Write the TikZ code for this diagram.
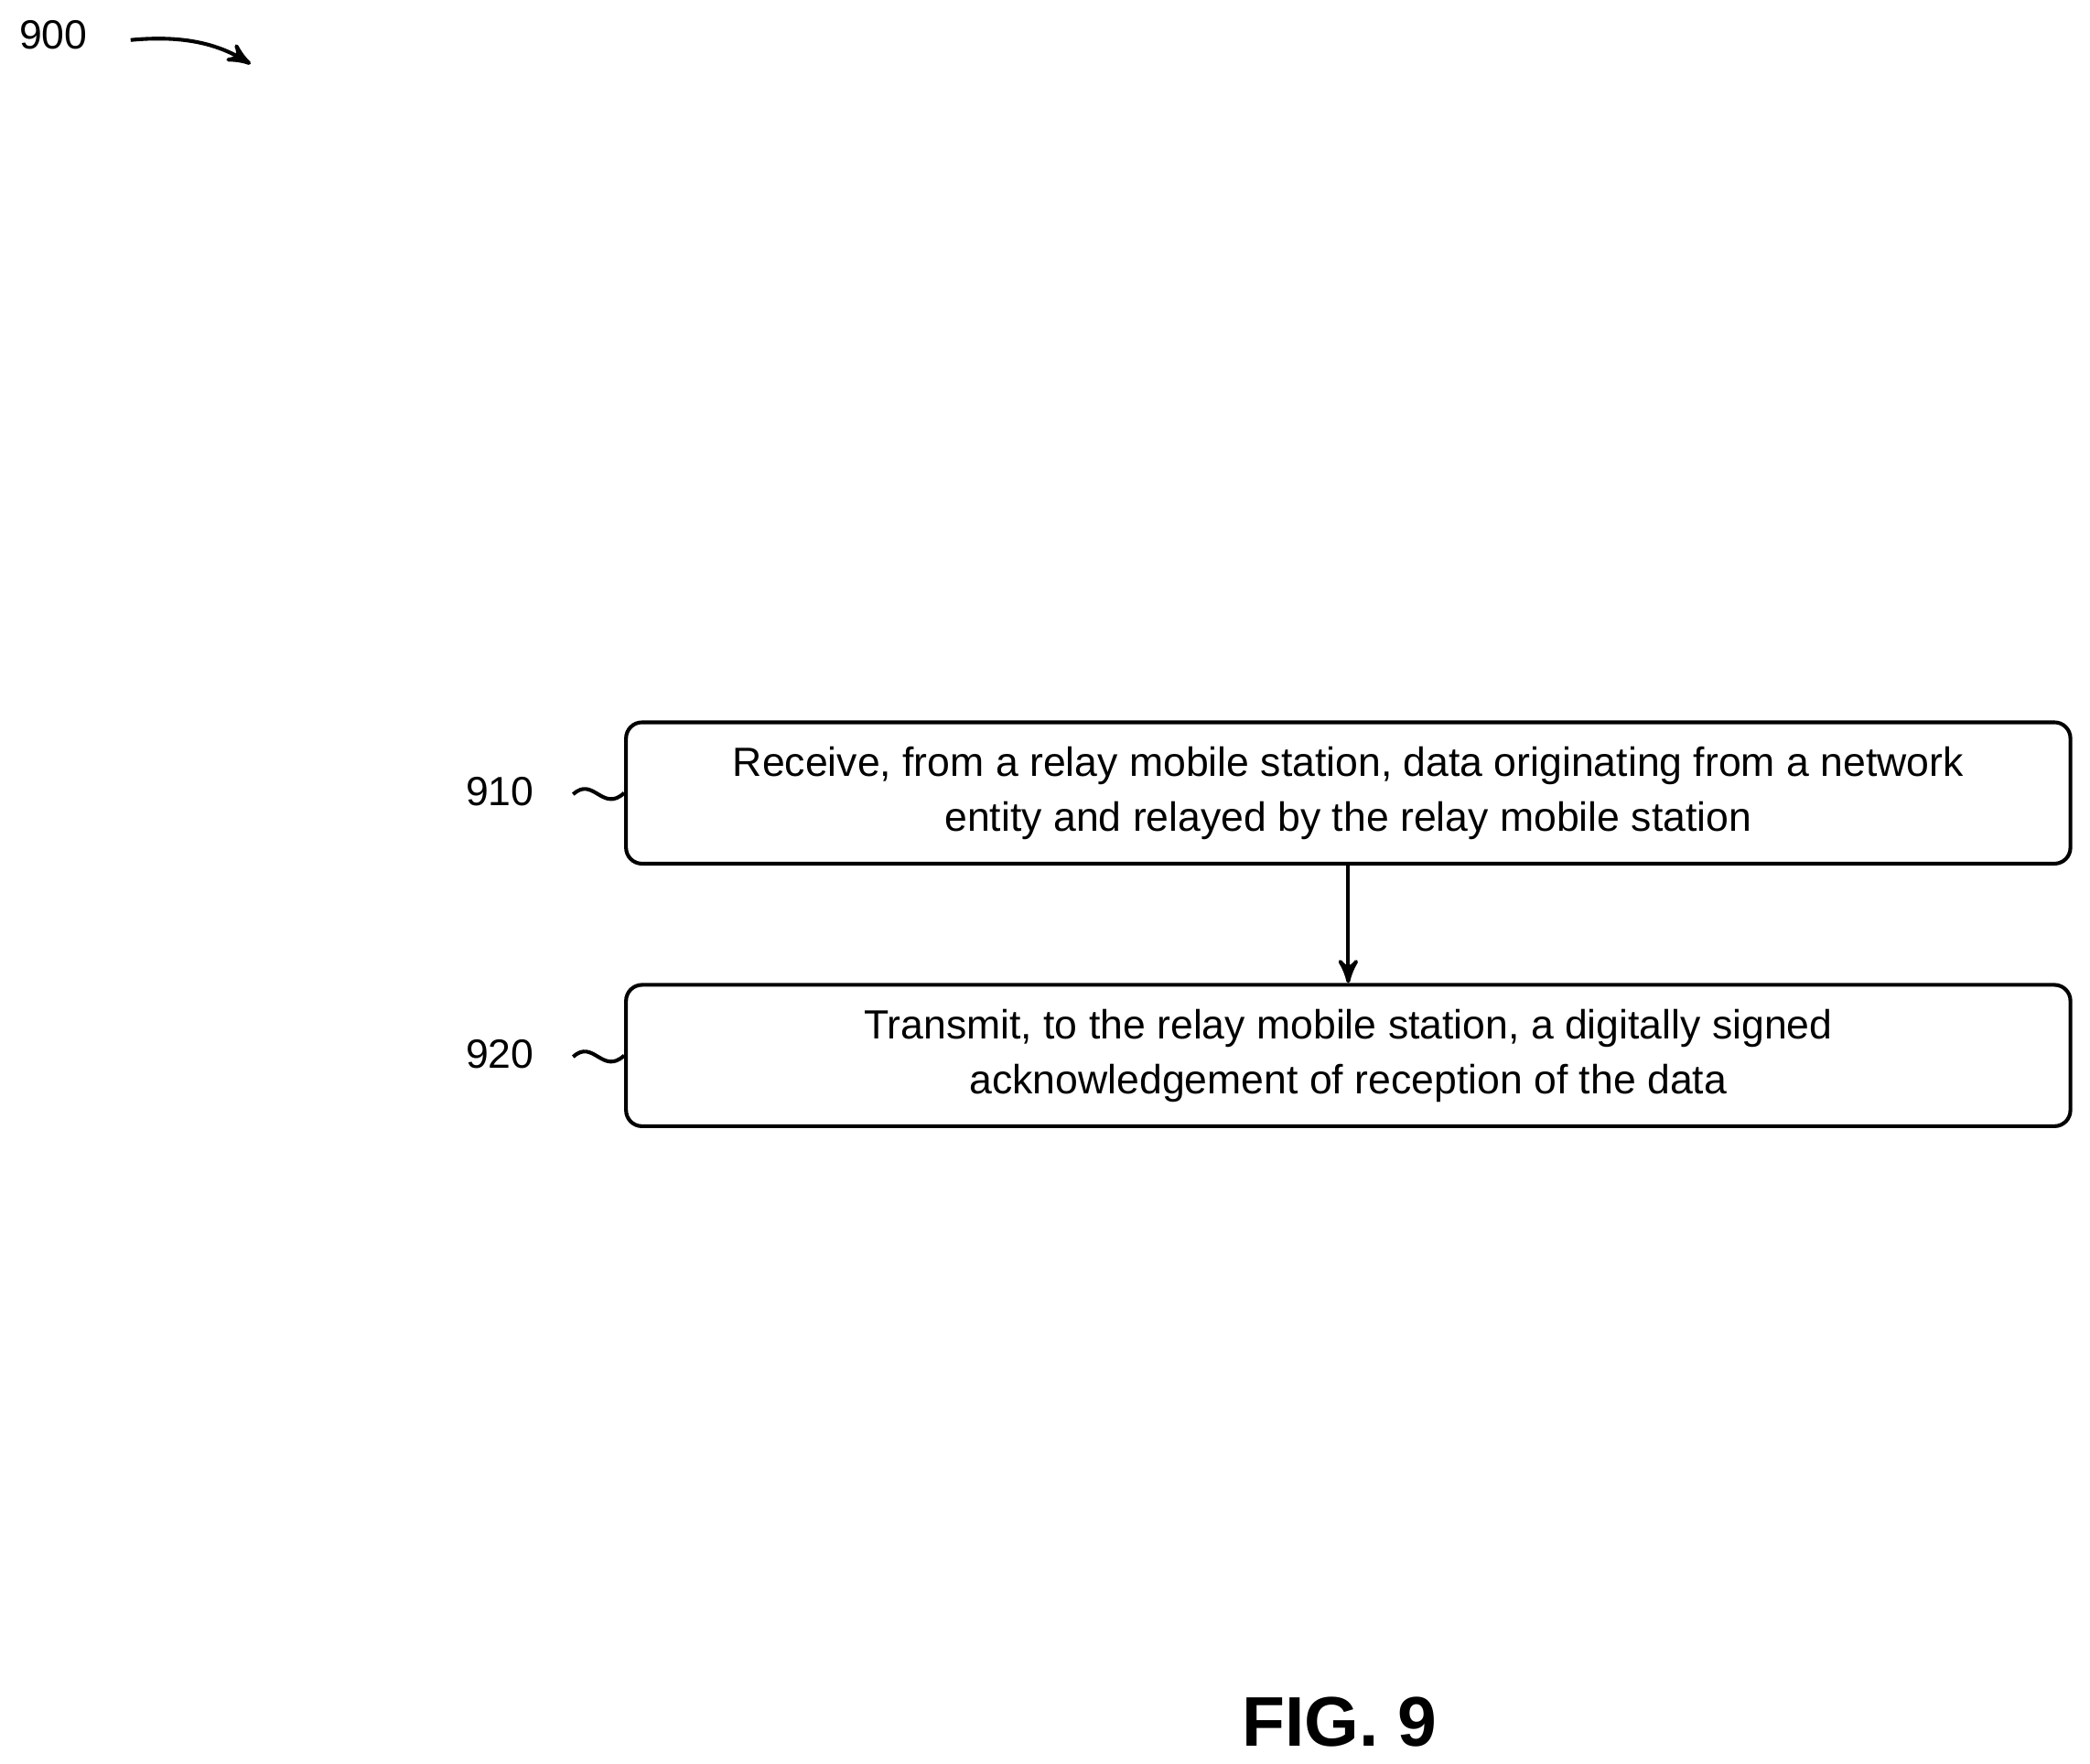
\documentclass[tikz,border=0pt]{standalone}
\usepackage{fontspec}
\setmainfont{Liberation Sans}
\usetikzlibrary{arrows,positioning}

\tikzset{
    stepbox/.style = {rectangle, draw, rounded corners = 0.12cm, line width = 0.8pt,
                   minimum width = 10.83cm, minimum height = 1.06cm,
                   align = center, font = \fontsize{8.7pt}{11.7pt}\selectfont},
    tag/.style = {font = \fontsize{8.7pt}{11.7pt}\selectfont}
}

\begin{document}
\begin{tikzpicture}[->,>=stealth', x=0.01cm, y=-0.01cm]

    \useasboundingbox (0,0) rectangle (1568,1323);

    \node[tag] (fig) at (40,26) {900};
    \coordinate (figtip) at (188,48);
    \draw[line width = 0.8pt] (98,30) .. controls (140,26) and (165,34) .. (figtip);

    \node[stepbox] (s910) at (1011.5,595) {Receive, from a relay mobile station, data originating from a network\\entity and relayed by the relay mobile station};
    \node[stepbox] (s920) at (1011.5,792) {Transmit, to the relay mobile station, a digitally signed\\acknowledgement of reception of the data};

    \node[tag] (l910) at (375,594) {910};
    \node[tag] (l920) at (375,791) {920};

    % squiggles to the boxes
    \draw[-, line width = 0.8pt] (430,596) .. controls (445,582) and (452,610) .. (s910.west);
    \draw[-, line width = 0.8pt] (430,793) .. controls (445,779) and (452,807) .. (s920.west);

    \draw[line width = 0.8pt] (s910) -- (s920);

    \node[font = \bfseries\fontsize{15pt}{18pt}\selectfont] (cap) at (1005,1292) {FIG. 9};

\end{tikzpicture}
\end{document}
